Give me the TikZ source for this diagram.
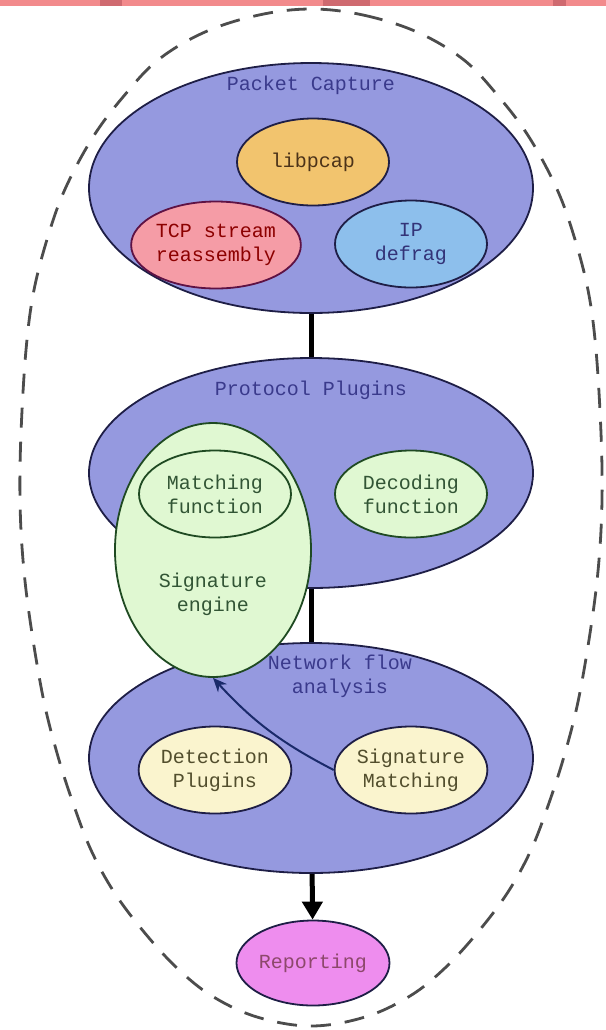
\documentclass[tikz,border=0pt]{standalone}
\usepackage{fontspec}
\usepackage{tikz}
\usetikzlibrary{arrows.meta,positioning,shapes.geometric}
\newfontfamily\diafont{Liberation Mono}
\definecolor{groupfill}{HTML}{9599DF}
\definecolor{groupline}{HTML}{1E1E46}
\definecolor{grouptext}{HTML}{3A3A8C}
\definecolor{pcapfill}{HTML}{F2C46E}
\definecolor{tcpfill}{HTML}{F59CA6}
\definecolor{ipfill}{HTML}{8DBFEC}
\definecolor{greenfill}{HTML}{E0F8D2}
\definecolor{greenline}{HTML}{1F4A22}
\definecolor{creamfill}{HTML}{FAF4CE}
\definecolor{reportfill}{HTML}{EE8DEE}
\definecolor{stripfill}{HTML}{F28A8C}
\definecolor{stripdark}{HTML}{CF6A70}
\definecolor{navyarrow}{HTML}{1A2A6A}
\tikzset{
  group/.style={ellipse,draw=groupline,fill=groupfill,line width=0.9pt,inner sep=0pt,minimum width=222pt,minimum height=115pt},
  grouptitle/.style={font=\diafont,text=grouptext,align=center,inner sep=1pt},
  part/.style={ellipse,draw=groupline,line width=0.9pt,inner sep=0pt,minimum width=76pt,minimum height=43.5pt,align=center,font=\diafont},
  greenpart/.style={part,draw=greenline,fill=greenfill,text=greenline!80!gray},
  creampart/.style={part,fill=creamfill,text=black!55!olive},
  boundary/.style={draw=black!70,dash pattern=on 10pt off 7pt,line width=1.4pt},
  link/.style={line width=2.5pt,black},
  flow/.style={-{Triangle[length=9pt,width=10pt]},line width=2.5pt,black},
  call/.style={-{Stealth[length=7pt,width=6pt]},line width=1pt,navyarrow}
}

\begin{document}
\begin{tikzpicture}[x=0.5pt,y=-0.5pt]
  \useasboundingbox (0,0) rectangle (606,1030);
  % strip along the top edge
  \fill[stripfill] (0,0) rectangle (606,6);
  \fill[stripdark] (100,0) rectangle (122,6);
  \fill[stripdark] (323,0) rectangle (370,6);
  \fill[stripdark] (553,0) rectangle (566,6);

  % dashed outline round the whole system
  \draw[boundary] plot[smooth cycle,tension=0.6] coordinates {
    (311,9) (363,15) (417,32) (464,60) (499,97) (529,137) (556,187) (573,233)
    (588,290) (596,350) (601,433) (602,500) (599,560) (592,620) (579,697)
    (565,753) (549,803) (531,850) (508,892) (478,932) (445,968) (410,996)
    (365,1017) (311,1026) (257,1017) (212,996) (177,968) (144,932) (114,892)
    (91,850) (73,803) (57,753) (43,697) (30,620) (23,560) (20,500) (21,433)
    (26,350) (34,290) (49,233) (66,187) (93,137) (123,97) (158,60) (205,32)
    (259,15)};

  % packet capture
  \node[group,minimum height=125pt] (pcap) at (311,188) {};
  \node[grouptitle] (pcaptitle) at (311,85) {Packet Capture};
  \node[part,fill=pcapfill,text=black!60!brown] (libpcap) at (313,162) {libpcap};
  \node[part,fill=tcpfill,draw=groupline!60!purple,text=black!45!red] (tcp) at (216,245) {TCP stream\\reassembly};
  \node[part,fill=ipfill,text=black!55!blue!60!gray] (ipdefrag) at (411,244) {IP\\defrag};

  % protocol plugins and network flow
  \node[group] (proto) at (311,473) {};
  \node[grouptitle] (prototitle) at (311,390) {Protocol Plugins};
  \node[group] (netflow) at (311,758) {};
  \node[grouptitle] (netflowtitle) at (340,676) {Network flow\\analysis};

  \draw[link] (pcap) -- (proto);
  \draw[link] (proto) -- (netflow);

  \node[greenpart,minimum width=98pt,minimum height=127pt] (sigengine) at (213,550) {};
  \node[font=\diafont,text=greenline!80!gray,align=center] (sigtext) at (213,594) {Signature\\engine};
  \node[greenpart] (matching) at (215,494) {Matching\\function};
  \node[greenpart] (decoding) at (411,494) {Decoding\\function};

  \node[creampart] (detection) at (215,770) {Detection\\Plugins};
  \node[creampart] (sigmatch) at (411,770) {Signature\\Matching};

  \node[part,fill=reportfill,minimum width=76.5pt,minimum height=42.5pt,text=black!50!magenta] (report) at (313,963) {Reporting};

  \draw[call] (sigmatch.west) to[bend left=10] (sigengine.south);
  \draw[flow] (netflow) -- (report);
\end{tikzpicture}
\end{document}
